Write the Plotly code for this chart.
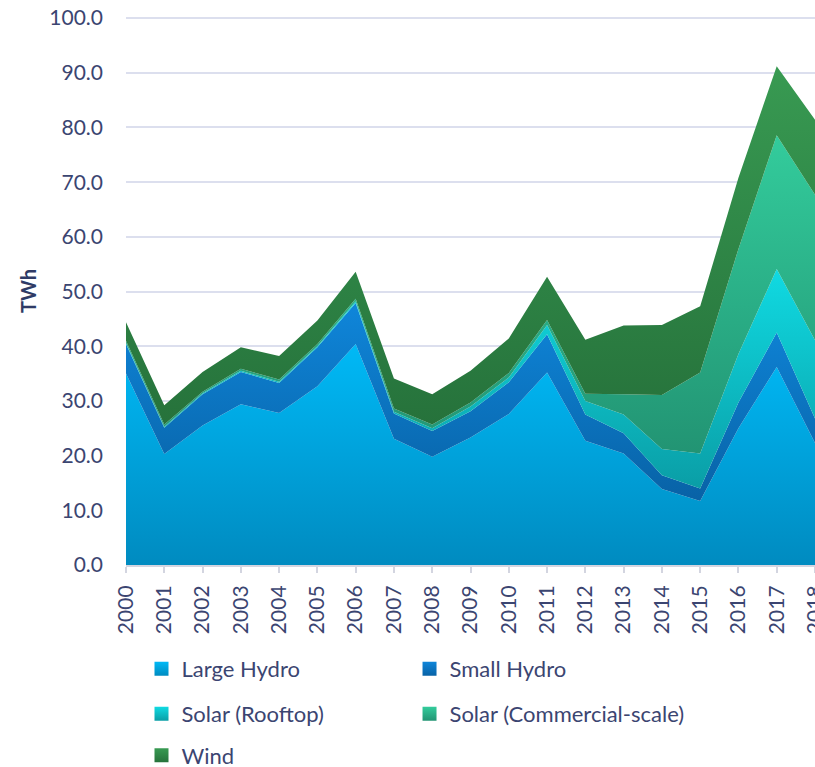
import plotly.graph_objects as go

years = list(range(2000, 2019))
year_labels = [str(y) for y in years]

large_hydro = [35.0, 20.3, 25.5, 29.4, 27.8, 32.7, 40.4, 23.1, 19.8, 23.3, 27.6, 35.2, 22.7, 20.4, 13.9, 11.7, 25.0, 36.2, 22.3]
small_hydro = [5.4, 4.8, 5.7, 5.9, 5.5, 7.1, 7.5, 4.6, 4.7, 4.8, 5.8, 7.0, 4.8, 3.7, 2.5, 2.3, 4.7, 6.3, 4.5]
solar_rooftop = [0.2, 0.2, 0.2, 0.2, 0.2, 0.2, 0.3, 0.3, 0.5, 0.9, 0.9, 1.7, 2.5, 3.4, 4.8, 6.4, 8.9, 11.6, 14.3]
solar_commercial = [0.4, 0.4, 0.3, 0.4, 0.4, 0.4, 0.5, 0.6, 0.7, 0.7, 0.8, 0.9, 1.3, 3.7, 9.9, 14.8, 19.2, 24.5, 26.6]
wind = [3.4, 3.5, 3.6, 3.9, 4.3, 4.3, 4.9, 5.5, 5.5, 5.8, 6.3, 7.9, 9.9, 12.6, 12.8, 12.1, 13.0, 12.6, 13.7]

series_names = ["Large Hydro", "Small Hydro", "Solar (Rooftop)", "Solar (Commercial-scale)", "Wind"]
series_values = [large_hydro, small_hydro, solar_rooftop, solar_commercial, wind]
top_colors = ["#00b9f6", "#0f86da", "#10dae2", "#33cc9c", "#389a52"]
bottom_colors = ["#008bc0", "#0862a6", "#0a9ea6", "#229473", "#26723b"]

# one legend per entry: (legend id, column x in paper, row y in container)
legend_ids = ["legend", "legend2", "legend3", "legend4", "legend5"]
legend_x = [0.0225, 0.4115, 0.0225, 0.4115, 0.0225]
legend_y = [0.1278, 0.1278, 0.0691, 0.0691, 0.0150]

FONT = "Lato"
TEXT_COLOR = "#3b4571"

fig = go.Figure()

lower = [0.0] * len(years)
for name, vals, ctop, cbot in zip(series_names, series_values, top_colors, bottom_colors):
    upper = [a + b for a, b in zip(lower, vals)]
    g_start = min(lower)
    g_stop = max(upper)
    fig.add_trace(go.Scatter(
        x=years, y=vals, name=name, stackgroup="one", mode="none",
        fillgradient=dict(type="vertical", colorscale=[[0, cbot], [1, ctop]],
                          start=g_start, stop=g_stop),
        showlegend=False, hoverinfo="x+y+name",
    ))
    lower = upper

legend_layout = {}
for name, ctop, cbot, lg, lx, ly in zip(series_names, top_colors, bottom_colors, legend_ids, legend_x, legend_y):
    fig.add_trace(go.Scatter(
        x=[None], y=[None], name=name, mode="markers", legend=lg,
        marker=dict(symbol="square", size=14, color=ctop,
                    gradient=dict(type="vertical", color=cbot), line=dict(width=0)),
        showlegend=True,
    ))
    legend_layout[lg] = dict(orientation="h", xanchor="left", yanchor="middle",
                             x=lx, y=ly, xref="paper", yref="container",
                             font=dict(family=FONT, size=22, color=TEXT_COLOR),
                             bgcolor="rgba(0,0,0,0)", itemclick=False, itemdoubleclick=False)

fig.update_layout(
    width=815, height=767,
    margin=dict(l=126, r=0, t=17, b=202, autoexpand=False),
    paper_bgcolor="white", plot_bgcolor="white",
    font=dict(family=FONT, color=TEXT_COLOR),
    xaxis=dict(
        range=[2000, 2018], tickvals=years, ticktext=year_labels, tickangle=-90,
        tickfont=dict(family=FONT, size=21, color=TEXT_COLOR), automargin=False,
        ticklabeloverflow="allow",
        showgrid=False, zeroline=False, showline=True, linecolor="#d3d5e0", linewidth=2,
        ticks="outside", ticklen=6, tickwidth=2, tickcolor="#d3d5e0", ticklabelstandoff=4,
    ),
    yaxis=dict(
        range=[0, 100.2], tickvals=[0, 10, 20, 30, 40, 50, 60, 70, 80, 90, 100],
        tickformat=".1f", tickfont=dict(family=FONT, size=21, color=TEXT_COLOR),
        automargin=False, ticklabeloverflow="allow",
        showgrid=True, gridcolor="#dcdfee", gridwidth=1.5, zeroline=False, showline=False,
        ticks="", ticklabelstandoff=22,
        title=dict(text="<b>TWh</b>", font=dict(family=FONT, size=20, color="#2f3b66"), standoff=7),
    ),
)
fig.update_layout(**legend_layout)

fig.write_html("out.html", config={"displayModeBar": False},
               post_script="document.body.style.margin='0';document.body.style.overflow='hidden';")
